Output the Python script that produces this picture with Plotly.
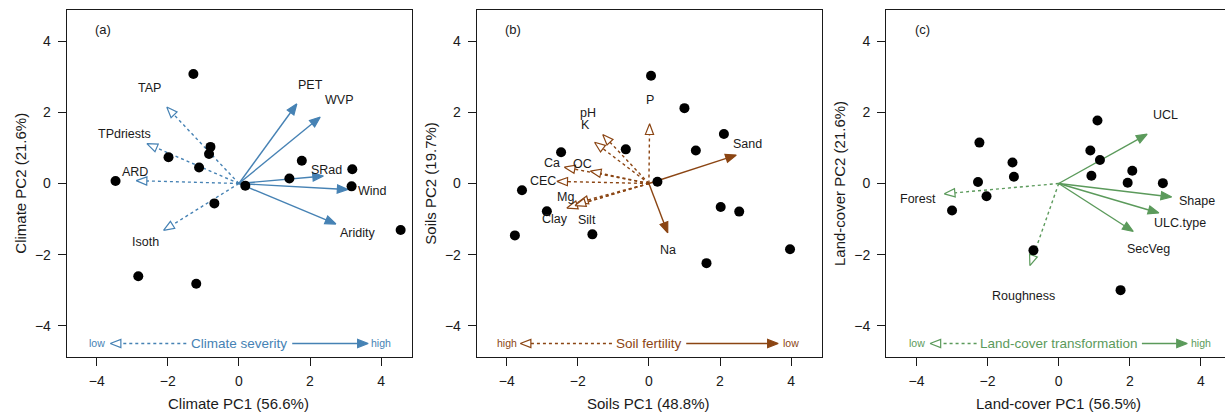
import numpy as np
import plotly.graph_objects as go

# ---------------- DATA ----------------
# Panel (a) Climate
clim_pc1 = [-1.28, -0.80, -0.84, -1.98, -1.12, -3.47, 0.18, -0.69, 1.77, 1.42, 3.19, 3.17, 4.55, -2.83, -1.20]
clim_pc2 = [3.08, 1.03, 0.83, 0.74, 0.45, 0.07, -0.06, -0.56, 0.64, 0.14, 0.40, -0.08, -1.31, -2.61, -2.82]
clim_vars = ["TAP", "TPdriests", "ARD", "Isoth", "PET", "WVP", "SRad", "Wind", "Aridity"]
clim_load1 = [-2.03, -2.59, -2.89, -2.12, 1.63, 2.29, 2.38, 3.07, 2.73]
clim_load2 = [2.15, 1.12, 0.08, -1.32, 2.24, 1.87, 0.21, -0.17, -1.14]
clim_lab1 = [-2.52, -3.22, -2.93, -2.63, 2.01, 2.82, 2.47, 3.77, 3.35]
clim_lab2 = [2.69, 1.39, 0.33, -1.64, 2.77, 2.34, 0.38, -0.22, -1.40]
clim_neg = [True, True, True, True, False, False, False, False, False]

# Panel (b) Soils
soil_pc1 = [0.06, 1.00, 2.11, 1.32, -0.65, -2.47, 0.24, -3.57, -2.87, -3.77, -1.59, 2.02, 2.54, 1.62, 3.97]
soil_pc2 = [3.03, 2.12, 1.39, 0.93, 0.96, 0.88, 0.05, -0.19, -0.78, -1.46, -1.43, -0.66, -0.79, -2.24, -1.85]
soil_vars = ["P", "pH", "K", "Ca", "OC", "CEC", "Mg", "Clay", "Silt", "Sand", "Na"]
soil_load1 = [0.02, -1.30, -1.53, -2.38, -1.65, -2.59, -2.01, -2.31, -2.08, 2.46, 0.53]
soil_load2 = [1.68, 1.38, 1.16, 0.46, 0.35, 0.06, -0.54, -0.69, -0.62, 0.80, -1.39]
soil_lab1 = [0.02, -1.70, -1.77, -2.72, -1.87, -2.97, -2.36, -2.63, -1.73, 2.77, 0.55]
soil_lab2 = [2.34, 1.99, 1.65, 0.59, 0.54, 0.08, -0.37, -1.01, -1.03, 1.11, -1.87]
soil_neg = [True, True, True, True, True, True, True, True, True, False, False]

# Panel (c) Land-cover
land_pc1 = [1.09, 0.89, 1.16, 0.92, 2.07, 1.94, 2.93, -2.23, -1.30, -1.26, -2.27, -2.03, -3.00, -0.71, 1.74]
land_pc2 = [1.77, 0.93, 0.66, 0.22, 0.36, 0.02, 0.01, 1.15, 0.59, 0.19, 0.04, -0.36, -0.76, -1.88, -3.00]
land_vars = ["UCL", "Shape", "ULC.type", "SecVeg", "Forest", "Roughness"]
land_load1 = [2.49, 3.18, 2.82, 2.10, -3.22, -0.81]
land_load2 = [1.39, -0.38, -0.83, -1.35, -0.29, -2.31]
land_lab1 = [3.01, 3.89, 3.42, 2.53, -3.97, -1.00]
land_lab2 = [1.93, -0.50, -1.12, -1.85, -0.44, -3.17]
land_neg = [False, False, False, False, True, True]

# Axis titles / gradient captions
x_titles = ["Climate PC1 (56.6%)", "Soils PC1 (48.8%)", "Land-cover PC1 (56.5%)"]
y_titles = ["Climate PC2 (21.6%)", "Soils PC2 (19.7%)", "Land-cover PC2 (21.6%)"]
panel_tags = ["(a)", "(b)", "(c)"]
grad_names = ["Climate severity", "Soil fertility", "Land-cover transformation"]
grad_left = ["low", "high", "low"]
grad_right = ["high", "low", "high"]
# gradient bar extents: (dashed start, open head tip), (solid start, solid head tip)
grad_dash = [(-1.48, -3.62), (-1.04, -3.62), (-2.31, -3.62)]
grad_solid = [(1.50, 3.64), (1.05, 3.64), (2.34, 3.62)]

colors = ["#4682B4", "#8B4513", "#5B9A5B"]
tick_vals = [-4, -2, 0, 2, 4]

# ---------------- LAYOUT GEOMETRY ----------------
W, H = 1225, 414
T, B = 10, 57
PX_PER_UNIT = 35.55
x_domains = [(66.7, 411.5), (476.7, 821.5), (886.0, 1225.0)]
x_zero_px = [238.9, 648.9, 1058.7]
YR = [-4.88, 4.88]

FONT = "Liberation Sans, Arial, sans-serif"
HEAD_L = 0.30
HEAD_W = 0.115

fig = go.Figure()


def head(tx, ty, dx, dy):
    n = np.hypot(dx, dy)
    ux, uy = dx / n, dy / n
    bx, by = tx - HEAD_L * ux, ty - HEAD_L * uy
    px, py = -uy, ux
    xs = [tx, bx + HEAD_W * px, bx - HEAD_W * px, tx]
    ys = [ty, by + HEAD_W * py, by - HEAD_W * py, ty]
    return xs, ys, bx, by


def add_arrow(xa, ya, x0, y0, x1, y1, color, dashed):
    xs, ys, bx, by = head(x1, y1, x1 - x0, y1 - y0)
    fig.add_trace(go.Scatter(
        x=[x0, bx], y=[y0, by], mode="lines", xaxis=xa, yaxis=ya,
        line=dict(color=color, width=1.4, dash="3px,3px" if dashed else "solid"),
        hoverinfo="skip", showlegend=False))
    fig.add_trace(go.Scatter(
        x=xs, y=ys, mode="lines", xaxis=xa, yaxis=ya, fill="toself",
        fillcolor="white" if dashed else color,
        line=dict(color=color, width=1.2), hoverinfo="skip", showlegend=False))


panels = [
    (clim_pc1, clim_pc2, clim_vars, clim_load1, clim_load2, clim_lab1, clim_lab2, clim_neg),
    (soil_pc1, soil_pc2, soil_vars, soil_load1, soil_load2, soil_lab1, soil_lab2, soil_neg),
    (land_pc1, land_pc2, land_vars, land_load1, land_load2, land_lab1, land_lab2, land_neg),
]

annotations = []
for i, (px, py, names, l1, l2, lb1, lb2, neg) in enumerate(panels):
    xa = "x" if i == 0 else f"x{i+1}"
    ya = "y" if i == 0 else f"y{i+1}"
    col = colors[i]
    for k in range(len(names)):
        if neg[k]:
            add_arrow(xa, ya, 0, 0, l1[k], l2[k], col, True)
    for k in range(len(names)):
        if not neg[k]:
            add_arrow(xa, ya, 0, 0, l1[k], l2[k], col, False)
    fig.add_trace(go.Scatter(x=px, y=py, mode="markers", xaxis=xa, yaxis=ya,
                             marker=dict(color="black", size=10), hoverinfo="skip", showlegend=False))
    for k in range(len(names)):
        annotations.append(dict(x=lb1[k], y=lb2[k], xref=xa, yref=ya, text=names[k], showarrow=False,
                                font=dict(family=FONT, size=12.5, color="#1a1a1a"),
                                xanchor="center", yanchor="middle"))
    annotations.append(dict(x=-3.82, y=4.33, xref=xa, yref=ya, text=panel_tags[i], showarrow=False,
                            font=dict(family=FONT, size=13, color="#1a1a1a"),
                            xanchor="center", yanchor="middle"))
    gy = -4.50
    d0, d1 = grad_dash[i]
    s0, s1 = grad_solid[i]
    add_arrow(xa, ya, d0, gy, d1, gy, col, True)
    add_arrow(xa, ya, s0, gy, s1, gy, col, False)
    annotations.append(dict(x=0, y=gy, xref=xa, yref=ya, text=grad_names[i], showarrow=False,
                            font=dict(family=FONT, size=13.5, color=col), xanchor="center", yanchor="middle"))
    annotations.append(dict(x=-4.0, y=gy, xref=xa, yref=ya, text=grad_left[i], showarrow=False,
                            font=dict(family=FONT, size=10.5, color=col), xanchor="center", yanchor="middle"))
    annotations.append(dict(x=4.0, y=gy, xref=xa, yref=ya, text=grad_right[i], showarrow=False,
                            font=dict(family=FONT, size=10.5, color=col), xanchor="center", yanchor="middle"))
    dl, dr = x_domains[i]
    annotations.append(dict(x=x_zero_px[i] / W, y=-(403 - (H - B)) / (H - T - B),
                            xref="paper", yref="paper", text=x_titles[i], showarrow=False,
                            font=dict(family=FONT, size=15, color="#1a1a1a"), xanchor="center", yanchor="middle"))
    annotations.append(dict(x=(dl - 46.5) / W, y=0.5, xref="paper", yref="paper", text=y_titles[i],
                            showarrow=False, textangle=-90,
                            font=dict(family=FONT, size=15, color="#1a1a1a"), xanchor="center", yanchor="middle"))

layout = dict(
    width=W, height=H, margin=dict(l=0, r=0, t=T, b=B),
    paper_bgcolor="white", plot_bgcolor="white",
    font=dict(family=FONT, size=14, color="#1a1a1a"),
    annotations=annotations, showlegend=False,
)
for i in range(3):
    dl, dr = x_domains[i]
    xk = "xaxis" if i == 0 else f"xaxis{i+1}"
    yk = "yaxis" if i == 0 else f"yaxis{i+1}"
    x_left = (dl - x_zero_px[i]) / PX_PER_UNIT
    x_right = (dr - x_zero_px[i]) / PX_PER_UNIT
    layout[xk] = dict(domain=[dl / W, dr / W], range=[x_left, x_right], anchor="y" if i == 0 else f"y{i+1}",
                      tickvals=tick_vals, ticks="outside", ticklen=8, tickwidth=1, tickcolor="#1a1a1a",
                      showline=True, linecolor="#1a1a1a", linewidth=1, mirror=True,
                      showgrid=False, zeroline=False, tickfont=dict(size=14), ticklabelstandoff=3)
    layout[yk] = dict(domain=[0, 1], range=YR, anchor="x" if i == 0 else f"x{i+1}",
                      tickvals=tick_vals, ticks="outside", ticklen=8, tickwidth=1, tickcolor="#1a1a1a",
                      showline=True, linecolor="#1a1a1a", linewidth=1, mirror=(i < 2),
                      showgrid=False, zeroline=False, tickfont=dict(size=14), ticklabelstandoff=4)

fig.update_layout(**layout)
fig.write_html("out.html")
